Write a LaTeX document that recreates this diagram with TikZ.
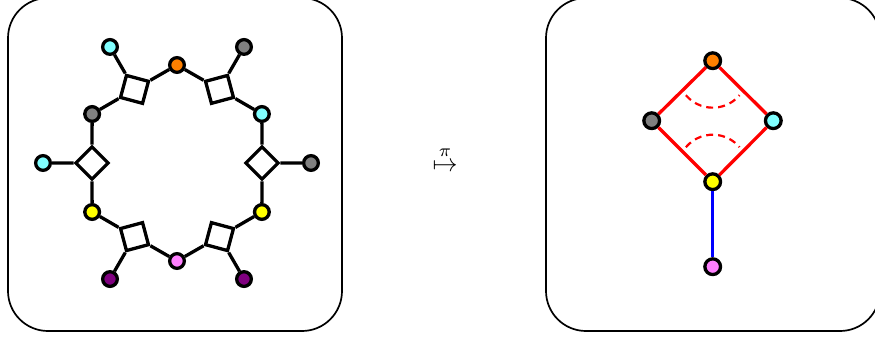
\documentclass[tikz,border=0pt]{standalone}
\definecolor{cyanL}{RGB}{128,255,255}
\definecolor{grayM}{RGB}{128,128,128}
\definecolor{orangeM}{RGB}{255,128,0}
\definecolor{purpleM}{RGB}{128,0,128}
\definecolor{pinkM}{RGB}{255,128,255}
\definecolor{yellowM}{RGB}{255,255,0}
\begin{document}
\begin{tikzpicture}[x=1pt,y=1pt,
  vtx/.style={circle,draw=black,line width=3.3pt,minimum size=14.7pt,inner sep=0pt},
  rvtx/.style={circle,draw=black,line width=3.3pt,minimum size=15.7pt,inner sep=0pt},
  sq/.style={rectangle,draw=black,fill=white,line width=3.3pt,minimum size=22.8pt,inner sep=0pt},
  edg/.style={line width=3.3pt,draw=black},
  redg/.style={line width=3.3pt,draw=red},
  bedg/.style={line width=3.3pt,draw=blue},
  darc/.style={line width=2.2pt,draw=red,dash pattern=on 7pt off 5pt},
  frame/.style={draw=black,line width=1.7pt,rounded corners=40pt}]
\useasboundingbox (0,0) rectangle (875,341);
\draw[frame] (8,10) rectangle (342,343);
\draw[frame] (546,10) rectangle (880,343);
% left graph
\coordinate (C) at (177,178);
\node[sq,rotate=45]  (s0)   at ([shift={(0:85)}]C) {};
\node[sq,rotate=105] (s60)  at ([shift={(60:85)}]C) {};
\node[sq,rotate=165] (s120) at ([shift={(120:85)}]C) {};
\node[sq,rotate=225] (s180) at ([shift={(180:85)}]C) {};
\node[sq,rotate=285] (s240) at ([shift={(240:85)}]C) {};
\node[sq,rotate=345] (s300) at ([shift={(300:85)}]C) {};
\node[vtx,fill=cyanL]   (r30)  at ([shift={(30:98)}]C) {};
\node[vtx,fill=orangeM] (r90)  at ([shift={(90:98)}]C) {};
\node[vtx,fill=grayM]   (r150) at ([shift={(150:98)}]C) {};
\node[vtx,fill=yellowM] (r210) at ([shift={(210:98)}]C) {};
\node[vtx,fill=pinkM]   (r270) at ([shift={(270:98)}]C) {};
\node[vtx,fill=yellowM] (r330) at ([shift={(330:98)}]C) {};
\node[vtx,fill=grayM]   (o0)   at ([shift={(0:134)}]C) {};
\node[vtx,fill=grayM]   (o60)  at ([shift={(60:134)}]C) {};
\node[vtx,fill=cyanL]   (o120) at ([shift={(120:134)}]C) {};
\node[vtx,fill=cyanL]   (o180) at ([shift={(180:134)}]C) {};
\node[vtx,fill=purpleM] (o240) at ([shift={(240:134)}]C) {};
\node[vtx,fill=purpleM] (o300) at ([shift={(300:134)}]C) {};
\draw[edg] (s0) -- (r330) (s0) -- (r30) (s0) -- (o0);
\draw[edg] (s60) -- (r30) (s60) -- (r90) (s60) -- (o60);
\draw[edg] (s120) -- (r90) (s120) -- (r150) (s120) -- (o120);
\draw[edg] (s180) -- (r150) (s180) -- (r210) (s180) -- (o180);
\draw[edg] (s240) -- (r210) (s240) -- (r270) (s240) -- (o240);
\draw[edg] (s300) -- (r270) (s300) -- (r330) (s300) -- (o300);
% map
\node[scale=2.5] (map) at (445,182) {$\stackrel{\pi}{\mapsto}$};
% right graph
\node[rvtx,fill=orangeM] (q1) at (712.7,280.3) {};
\node[rvtx,fill=grayM]   (q2) at (651.7,220.3) {};
\node[rvtx,fill=cyanL]   (q3) at (773.3,220.3) {};
\node[rvtx,fill=yellowM] (q4) at (712.7,159.3) {};
\node[rvtx,fill=pinkM]   (q5) at (712.7,74.3) {};
\draw[redg] (q1) -- (q2) (q1) -- (q3) (q2) -- (q4) (q3) -- (q4);
\draw[bedg] (q4) -- (q5);
\draw[darc] ([shift={(220:35)}]712.7,268.3) arc[start angle=220,end angle=320,radius=35];
\draw[darc] ([shift={(140:35)}]712.7,171.3) arc[start angle=140,end angle=40,radius=35];
\end{tikzpicture}
\end{document}
